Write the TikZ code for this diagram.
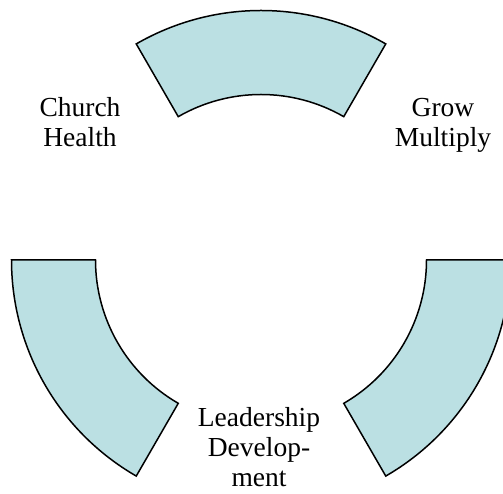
\documentclass[tikz,border=0pt]{standalone}
\usepackage{fontspec}
\setmainfont{Liberation Serif}
\usetikzlibrary{calc}
\definecolor{segfill}{HTML}{BBE0E3}
\tikzset{
  seg/.style={draw=black, fill=segfill, line width=1.5pt, line join=miter},
  lbl/.style={align=center, inner sep=0pt, font=\fontsize{27.5}{30}\selectfont}
}
\begin{document}
\begin{tikzpicture}[x=1pt,y=1pt]
\useasboundingbox (0,0) rectangle (503,494);
\clip (0,0) rectangle (503,494);
\coordinate (c) at (261,234);
% top segment
\draw[seg] ($(c)+(60:165.5pt)$) -- ($(c)+(60:249.5pt)$)
  arc[start angle=60, end angle=120, radius=249.5pt]
  -- ($(c)+(120:165.5pt)$)
  arc[start angle=120, end angle=60, radius=165.5pt] -- cycle;
% left segment
\draw[seg] ($(c)+(180:165.5pt)$) -- ($(c)+(180:249.5pt)$)
  arc[start angle=180, end angle=240, radius=249.5pt]
  -- ($(c)+(240:165.5pt)$)
  arc[start angle=240, end angle=180, radius=165.5pt] -- cycle;
% right segment
\draw[seg] ($(c)+(300:165.5pt)$) -- ($(c)+(300:249.5pt)$)
  arc[start angle=300, end angle=360, radius=249.5pt]
  -- ($(c)+(360:165.5pt)$)
  arc[start angle=360, end angle=300, radius=165.5pt] -- cycle;
\node[lbl] (church) at (80,372.1) {Church\\Health};
\node[lbl] (grow) at (443,369) {Grow\\Multiply};
\node[lbl] (lead) at (259,46.5) {Leadership\\Develop-\\ment};
\end{tikzpicture}
\end{document}
